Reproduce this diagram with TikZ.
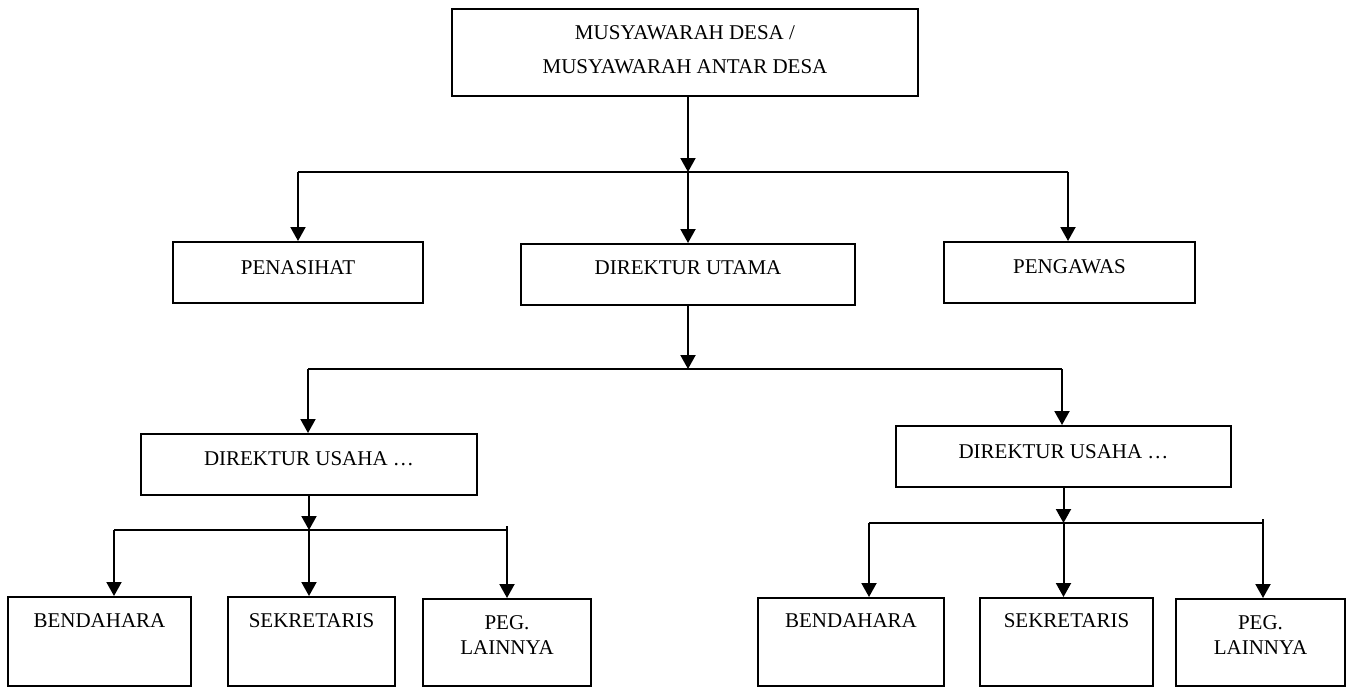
\documentclass[tikz,border=0pt]{standalone}
\usepackage{fontspec}
\setmainfont{Liberation Serif}
\usetikzlibrary{arrows.meta}

\begin{document}
\begin{tikzpicture}[x=0.5pt,y=-0.5pt,>={Triangle[length=7pt,width=7.5pt]},unit/.style={draw,line width=1pt,inner sep=0pt,font=\fontsize{10.5}{12.6}\selectfont},link/.style={line width=1pt},feed/.style={->,line width=1pt}]
\useasboundingbox (0,0) rectangle (1351,687);
% boxes
\node[unit,minimum width=233pt,text height=15pt,text depth=28.5pt] (musdes) at (685,52.5) {\begin{tabular}[t]{@{}c@{}}MUSYAWARAH DESA /\\[4.4pt]MUSYAWARAH ANTAR DESA\end{tabular}};
\node[unit,minimum width=125pt,text height=16pt,text depth=14.5pt] (pen) at (298,272.5) {PENASIHAT};
\node[unit,minimum width=167pt,text height=15pt,text depth=15.5pt] (dirut) at (688,274.5) {DIREKTUR UTAMA};
\node[unit,minimum width=125.5pt,text height=15.5pt,text depth=15pt] (peng) at (1069.5,272.5) {PENGAWAS};
\node[unit,minimum width=168pt,text height=15.5pt,text depth=15pt] (dul) at (309,464.5) {DIREKTUR USAHA …};
\node[unit,minimum width=167.5pt,text height=16pt,text depth=14.5pt] (dur) at (1063.5,456.5) {DIREKTUR USAHA …};
\node[unit,minimum width=91.5pt,text height=15pt,text depth=29.5pt] (bendL) at (99.5,641.5) {BENDAHARA};
\node[unit,minimum width=83.5pt,text height=15pt,text depth=29.5pt] (sekL) at (311.5,641.5) {SEKRETARIS};
\node[unit,minimum width=84pt,text height=15pt,text depth=28.5pt] (pegL) at (507,642.5) {\begin{tabular}[t]{@{}c@{}}PEG.\\LAINNYA\end{tabular}};
\node[unit,minimum width=93pt,text height=14.5pt,text depth=29.5pt] (bendR) at (851,642) {BENDAHARA};
\node[unit,minimum width=86.5pt,text height=14.5pt,text depth=29.5pt] (sekR) at (1066.5,642) {SEKRETARIS};
\node[unit,minimum width=84.5pt,text height=15pt,text depth=28.5pt] (pegR) at (1260.5,642.5) {\begin{tabular}[t]{@{}c@{}}PEG.\\LAINNYA\end{tabular}};
% bus lines
\coordinate (b1l) at (298,172);
\coordinate (b1r) at (1068,172);
\coordinate (b2l) at (308,369);
\coordinate (b2r) at (1062,369);
\coordinate (b3l) at (114,530);
\coordinate (b3lr) at (507,530);
\coordinate (t3l) at (507,526);
\coordinate (b3r) at (869,523);
\coordinate (b3rr) at (1263,523);
\coordinate (t3r) at (1263,519);
\draw[link] (b1l) -- (b1r);
\draw[link] (b2l) -- (b2r);
\draw[link] (b3l) -- (b3lr);
\draw[link] (b3r) -- (b3rr);
% level 1
\draw[feed] (musdes.south -| dirut.north) -- (dirut.north |- b1l);
\draw[feed] (b1l) -- (pen.north);
\draw[feed] (dirut.north |- b1l) -- (dirut.north);
\draw[feed] (b1r) -- (b1r |- peng.north);
% level 2
\draw[feed] (dirut.south) -- (dirut.south |- b2l);
\draw[feed] (b2l) -- (b2l |- dul.north);
\draw[feed] (b2r) -- (b2r |- dur.north);
% level 3 left
\draw[feed] (dul.south) -- (dul.south |- b3l);
\draw[feed] (b3l) -- (b3l |- bendL.north);
\draw[feed] (dul.south |- b3l) -- (dul.south |- sekL.north);
\draw[feed] (t3l) -- (t3l |- pegL.north);
% level 3 right
\draw[feed] (dur.south) -- (dur.south |- b3r);
\draw[feed] (b3r) -- (b3r |- bendR.north);
\draw[feed] (dur.south |- b3r) -- (dur.south |- sekR.north);
\draw[feed] (t3r) -- (t3r |- pegR.north);
\end{tikzpicture}
\end{document}
